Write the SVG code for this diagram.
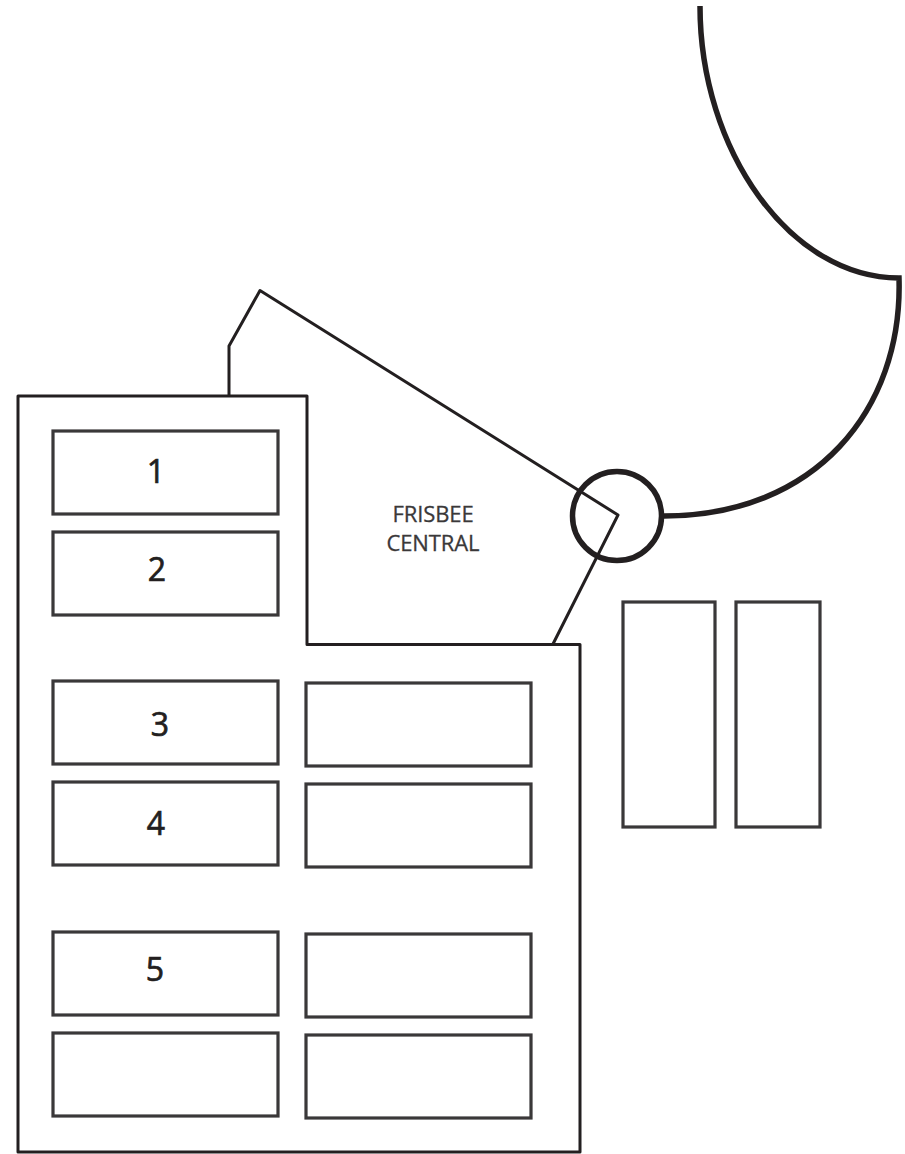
<svg xmlns="http://www.w3.org/2000/svg" width="905" height="1154" viewBox="0 0 905 1154">
<style>
.o{fill:none;stroke:#231f20;stroke-width:3;stroke-linejoin:round}
.b{fill:#fff;stroke:#3a3839;stroke-width:3.200}
.h{fill:none;stroke:#231f20;stroke-width:5.500}
.n{font-family:"Open Sans","Noto Sans",sans-serif;font-size:32px;fill:#231f20;stroke:#231f20;stroke-width:.7;text-anchor:middle}
.l{font-family:"Open Sans","Noto Sans",sans-serif;font-size:22px;letter-spacing:-.1px;fill:#3a3839;stroke:#3a3839;stroke-width:.3;text-anchor:middle}
</style>
<rect width="905" height="1154" fill="#fff"/>
<g id="building"><path class="o" d="M18 396H307V644.500H580V1152H18Z"/></g>
<g id="box-1"><rect class="b" x="53" y="431" width="225" height="83"/><text class="n" x="156" y="483">1</text></g>
<g id="box-2"><rect class="b" x="53" y="532" width="225" height="83"/><text class="n" x="157" y="581">2</text></g>
<g id="box-3"><rect class="b" x="53" y="681" width="225" height="83"/><text class="n" x="160" y="736">3</text></g>
<g id="box-4"><rect class="b" x="53" y="782" width="225" height="83"/><text class="n" x="156" y="835">4</text></g>
<g id="box-5"><rect class="b" x="53" y="932" width="225" height="83"/><text class="n" x="155" y="981">5</text></g>
<g id="box-6"><rect class="b" x="53" y="1033" width="225" height="83"/></g>
<g id="box-7"><rect class="b" x="306" y="683" width="225" height="83"/></g>
<g id="box-8"><rect class="b" x="306" y="784" width="225" height="83"/></g>
<g id="box-9"><rect class="b" x="306" y="934" width="225" height="83"/></g>
<g id="box-10"><rect class="b" x="306" y="1035" width="225" height="83"/></g>
<g id="box-11"><rect class="b" x="623" y="602" width="92" height="225"/></g>
<g id="box-12"><rect class="b" x="736" y="602" width="84" height="225"/></g>
<g id="frisbee-central"><text class="l" x="433" y="522">FRISBEE</text><text class="l" x="433" y="551">CENTRAL</text>
<path class="o" d="M229 396V346L260 290.500L618 515L553 644"/></g>
<g id="connectors"><path class="h" d="M700 6C700 150 790 278 899 278C903 410 815 516 664 516"/></g>
<g id="hub"><circle class="h" cx="617" cy="516" r="44.500"/></g>
</svg>
